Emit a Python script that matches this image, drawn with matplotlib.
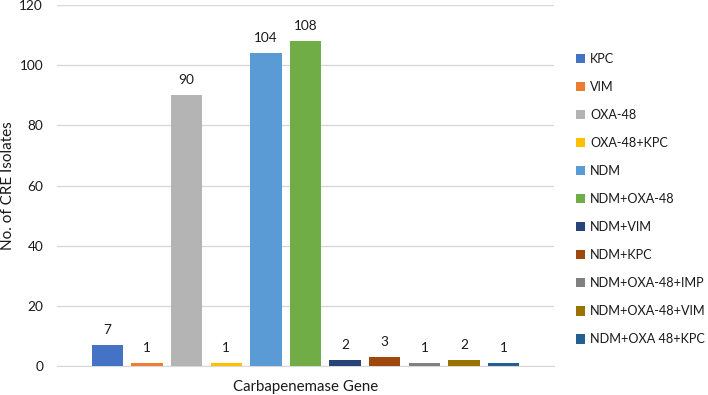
import matplotlib.pyplot as plt
from matplotlib.patches import Patch

plt.rcParams['font.family'] = ['Lato', 'DejaVu Sans']

# Carbapenemase genes and counts
genes = ['KPC', 'VIM', 'OXA-48', 'OXA-48+KPC', 'NDM', 'NDM+OXA-48',
         'NDM+VIM', 'NDM+KPC', 'NDM+OXA-48+IMP', 'NDM+OXA-48+VIM',
         'NDM+OXA 48+KPC']
counts = [7, 1, 90, 1, 104, 108, 2, 3, 1, 2, 1]
colors = ['#4472C4', '#ED7D31', '#B4B4B4', '#FFC000', '#5B9BD5', '#70AD47',
          '#264478', '#9E480E', '#808080', '#997300', '#255E91']

text_color = '#1a1a1a'
grid_color = '#d9d9d9'

fig = plt.figure(figsize=(7.08, 3.95), dpi=100)
ax = fig.add_axes([0.0805, 0.073, 0.702, 0.914])

for i, (g, c, col) in enumerate(zip(genes, counts, colors)):
    ax.bar(i, c, width=0.79, color=col, label=g, zorder=3)
    ax.text(i, c + 3, str(c), ha='center', va='bottom', fontsize=9.8,
            color=text_color)

ax.set_xlim(-1.27, 11.27)
ax.set_ylim(0, 120)
ax.set_yticks(range(0, 121, 20))
ax.set_xticks([])
ax.grid(axis='y', color=grid_color, linewidth=1, zorder=0)
for side in ['top', 'right', 'left']:
    ax.spines[side].set_visible(False)
ax.spines['bottom'].set_color(grid_color)
ax.tick_params(axis='y', length=0, labelsize=9.8, labelcolor=text_color, pad=10)

ax.set_ylabel('No. of CRE Isolates', fontsize=11, color=text_color, va='center')
ax.yaxis.set_label_coords(-0.098, 0.5)
ax.set_xlabel('Carbapenemase Gene', fontsize=10.8, color=text_color, va='center')
ax.xaxis.set_label_coords(0.5, -0.057)

handles = [Patch(facecolor=col, label=g) for g, col in zip(genes, colors)]
fig.legend(handles=handles, loc='center left', bbox_to_anchor=(0.813, 0.496),
           frameon=False, fontsize=9.1, handlelength=0.75, handleheight=0.75,
           handletextpad=0.4, labelspacing=1.27, labelcolor=text_color,
           borderpad=0, borderaxespad=0)

plt.savefig('out.png', dpi=100)
